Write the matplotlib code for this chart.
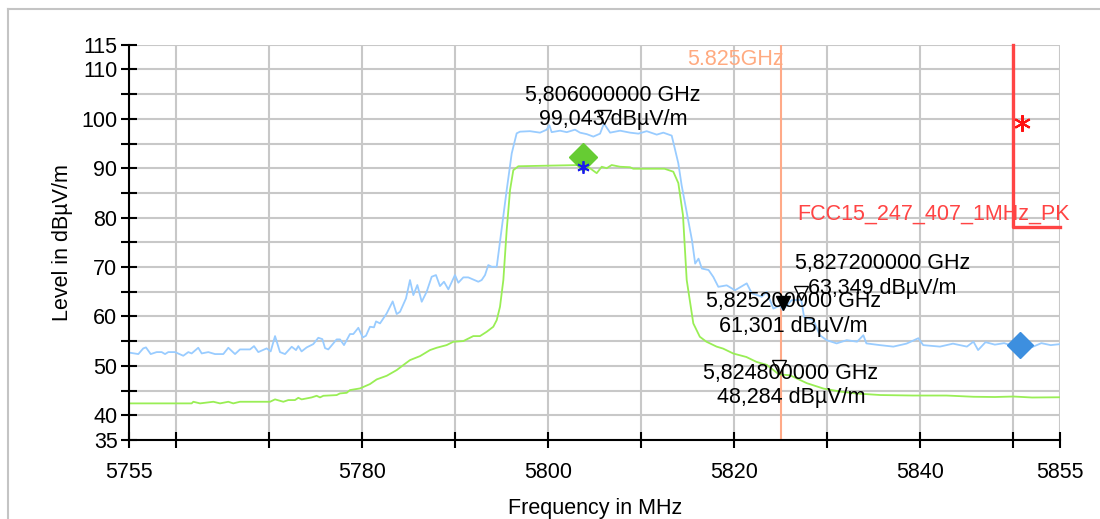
import numpy as np
import matplotlib
matplotlib.use("Agg")
import matplotlib.pyplot as plt
from matplotlib.lines import Line2D
from matplotlib.transforms import offset_copy

plt.rcParams['font.family'] = ['Liberation Sans', 'DejaVu Sans']

# blue trace (peak detector), frequency in MHz / level in dBuV/m
blue_f = [5755.08, 5755.97, 5756.50, 5756.79, 5757.30, 5757.94, 5758.48, 5758.84, 5759.19, 5759.91,
          5760.80, 5761.34, 5761.70, 5762.41, 5762.78, 5763.49, 5764.21, 5765.10, 5765.64, 5766.36,
          5766.89, 5767.97, 5768.40, 5768.86, 5769.76, 5770.19, 5770.66, 5771.19, 5771.73, 5772.45,
          5772.91, 5773.16, 5773.51, 5774.06, 5774.77, 5775.31, 5775.74, 5776.03, 5776.38, 5777.28,
          5777.64, 5778.07, 5778.71, 5779.07, 5779.61, 5780.08, 5780.43, 5780.86, 5781.29, 5781.51,
          5781.94, 5782.66, 5783.30, 5783.73, 5784.09, 5784.73, 5785.16, 5785.52, 5785.95, 5786.42,
          5786.95, 5787.49, 5787.95, 5788.38, 5788.81, 5789.28, 5789.99, 5790.35, 5790.89, 5791.42,
          5792.50, 5792.86, 5793.22, 5793.57, 5793.94, 5794.48, 5795.55, 5796.09, 5796.62, 5796.98,
          5798.05, 5799.13, 5799.85, 5800.13, 5800.38, 5801.28, 5802.00, 5802.89, 5803.43, 5804.15,
          5804.86, 5805.58, 5806.00, 5806.66, 5807.73, 5808.81, 5809.70, 5810.59, 5811.67, 5812.38,
          5813.28, 5813.99, 5814.35, 5815.46, 5815.80, 5816.16, 5816.52, 5817.24, 5817.75, 5818.29,
          5819.19, 5820.08, 5821.34, 5821.88, 5822.95, 5823.49, 5824.20, 5824.92, 5825.20, 5826.17,
          5827.20, 5827.50, 5828.50, 5829.20, 5829.93, 5831.00, 5832.08, 5833.20, 5833.87, 5834.20,
          5835.66, 5837.09, 5838.50, 5839.78, 5840.30, 5842.10, 5843.50, 5845.00, 5845.70, 5846.20,
          5847.00, 5848.00, 5849.00, 5850.00, 5851.00, 5852.00, 5853.00, 5854.00, 5855.00]
blue_l = [52.66, 52.39, 53.54, 53.74, 52.39, 52.79, 52.79, 52.39, 52.79, 52.79,
          52.05, 52.79, 52.52, 53.67, 52.52, 52.79, 52.39, 52.39, 53.67, 52.39,
          53.33, 53.33, 54.00, 52.79, 53.54, 52.93, 56.03, 52.79, 52.39, 53.87,
          53.20, 54.00, 52.93, 53.74, 54.41, 55.69, 55.42, 53.60, 53.33, 55.36,
          55.36, 54.21, 56.44, 56.44, 57.71, 55.76, 56.10, 57.92, 57.80, 59.00,
          58.60, 60.63, 63.05, 60.49, 60.95, 63.66, 67.37, 64.33, 66.36, 62.98,
          65.00, 68.04, 68.38, 66.15, 67.03, 65.49, 68.38, 66.83, 67.91, 67.91,
          67.03, 67.37, 68.38, 70.40, 70.06, 70.06, 85.60, 93.00, 97.06, 97.40,
          97.50, 97.20, 97.80, 98.70, 97.30, 97.60, 97.30, 97.80, 97.20, 96.90,
          96.40, 97.00, 99.04, 97.20, 97.60, 97.20, 97.00, 97.50, 96.80, 97.20,
          96.60, 91.00, 86.50, 75.40, 70.70, 71.70, 69.70, 69.40, 68.00, 66.00,
          66.30, 65.30, 66.70, 64.70, 64.00, 65.00, 61.60, 62.20, 61.30, 63.30,
          63.35, 59.90, 59.30, 56.20, 55.20, 54.55, 55.20, 54.90, 56.20, 54.55,
          54.20, 53.90, 54.50, 55.60, 54.20, 53.90, 54.50, 53.90, 54.90, 53.20,
          54.80, 54.30, 54.60, 54.00, 54.40, 53.80, 54.60, 54.20, 54.40]

# green trace (average detector)
green_f = [5755.08, 5761.70, 5761.88, 5762.60, 5764.03, 5764.75, 5765.64, 5766.17, 5766.89, 5770.12,
           5770.66, 5771.55, 5772.08, 5772.80, 5773.16, 5773.52, 5774.06, 5774.60, 5775.13, 5775.49,
           5775.85, 5777.28, 5777.64, 5778.36, 5778.71, 5779.79, 5780.86, 5781.58, 5782.66, 5783.73,
           5784.44, 5785.16, 5786.24, 5787.31, 5788.03, 5789.10, 5789.81, 5790.89, 5791.96, 5792.68,
           5793.40, 5794.11, 5794.48, 5794.83, 5795.19, 5795.55, 5795.91, 5796.26, 5796.80, 5803.43,
           5804.50, 5805.22, 5805.76, 5806.30, 5806.83, 5807.73, 5808.80, 5809.15, 5812.50, 5813.45,
           5813.99, 5814.49, 5814.89, 5815.60, 5816.30, 5817.00, 5818.10, 5818.80, 5819.90, 5821.30,
           5822.40, 5823.50, 5824.80, 5825.99, 5827.80, 5829.60, 5831.40, 5833.20, 5835.70, 5839.20,
           5842.80, 5845.70, 5848.00, 5850.00, 5852.00, 5855.00]
green_l = [42.41, 42.41, 42.74, 42.41, 42.74, 42.41, 42.74, 42.41, 42.74, 42.74,
           43.22, 42.74, 43.08, 43.08, 43.54, 43.22, 43.42, 43.62, 43.95, 43.62,
           43.95, 44.09, 44.43, 44.55, 45.10, 45.44, 46.32, 47.26, 48.00, 49.15,
           50.16, 51.17, 51.98, 53.20, 53.67, 54.21, 54.88, 55.02, 56.03, 56.03,
           56.90, 57.92, 59.27, 61.97, 67.37, 77.50, 85.60, 89.60, 90.40, 90.65,
           90.00, 89.00, 90.30, 90.00, 90.65, 90.30, 90.20, 89.90, 89.90, 89.30,
           87.00, 80.50, 67.40, 58.60, 55.90, 54.90, 53.90, 53.50, 52.50, 51.80,
           50.80, 50.20, 48.28, 48.10, 46.50, 45.40, 44.80, 44.40, 44.10, 44.00,
           44.00, 43.75, 43.70, 43.80, 43.60, 43.65]

# limit line FCC15_247_407_1MHz_PK
limit_f = [5850, 5850, 5855]
limit_l = [115, 78.2, 78.2]

# marker readouts
mk_f = [5806.0, 5827.2, 5825.2, 5824.8]
mk_l = [99.043, 63.349, 61.301, 48.284]
mk_filled = [False, False, True, False]
mk_text_off = [(9, 16), (81, 24), (11, -4), (12, -11)]

freq_line = 5825
xticks = [5755, 5760, 5770, 5780, 5790, 5800, 5810, 5820, 5830, 5840, 5850, 5855]
xlabeled = [5755, 5780, 5800, 5820, 5840, 5855]
yticks = list(range(35, 120, 5))
ylabeled = [35, 40, 50, 60, 70, 80, 90, 100, 110, 115]

fig = plt.figure(figsize=(11, 5.19), dpi=100)
ax = fig.add_axes([129.3 / 1100, 1 - 440 / 519, (1060 - 129.3) / 1100, (440 - 44.7) / 519])

ax.plot(blue_f, blue_l, color='#99ccff', lw=1.3, zorder=3)
ax.plot(green_f, green_l, color='#99ee55', lw=1.3, zorder=3)
ax.plot(limit_f, limit_l, color='#ff4444', lw=2.4, zorder=4, clip_on=False)
ax.axvline(freq_line, color='#ffaa88', lw=1.5, zorder=2)
ax.annotate('5.825GHz', xy=(freq_line, 115), xytext=(3, -15), textcoords='offset pixels',
            ha='right', va='center', color='#ffaa80', fontsize=15.5)
ax.annotate('FCC15_247_407_1MHz_PK', xy=(limit_f[-1], limit_l[-1]), xytext=(10, 12),
            textcoords='offset pixels', ha='right', va='center', color='#ff4444',
            fontsize=15.5, annotation_clip=False)

# symbols
ax.plot([5803.75], [92.25], marker='D', ms=14, color='#66cc33', zorder=6, ls='none')
ax.plot([5803.75], [90.2], marker=(6, 2, 0), ms=9, mew=1.3, color='#1a1aee', zorder=6, ls='none')
ax.plot([5850.75], [54.2], marker='D', ms=13, color='#3d8fdf', zorder=6, ls='none', clip_on=False)
ax.plot([5850.9], [99.1], marker=(6, 2, 0), ms=12, mew=1.5, color='#ff1111', zorder=6, ls='none')

up = offset_copy(ax.transData, fig=fig, x=0, y=7, units='dots')
for f, l, filled, off in zip(mk_f, mk_l, mk_filled, mk_text_off):
    ax.plot([f], [l], marker='v', ms=10, mew=1.0, mec='black',
            mfc='black' if filled else 'white', transform=up, zorder=7, ls='none')
    s = f"{f / 1000:.9f} GHz\n{l:.3f} dBµV/m".replace('.', ',')
    ax.annotate(s, xy=(f, l), xytext=off, textcoords='offset pixels', ha='center', va='center',
                multialignment='center', fontsize=15.5, zorder=8)

ax.set_xlim(5755, 5855)
ax.set_ylim(35, 115)
ax.set_xticks(xticks)
ax.set_xticklabels([str(t) if t in xlabeled else '' for t in xticks])
ax.set_yticks(yticks)
ax.set_yticklabels([str(t) if t in ylabeled else '' for t in yticks])
ax.tick_params(direction='inout', length=11, width=1.5, labelsize=15.5, color='black')
ax.tick_params(axis='x', pad=10)
ax.tick_params(axis='y', pad=3)
ax.grid(True, color='#c8c8c8', lw=1.5, zorder=0)
ax.set_axisbelow(True)
for s in ['top', 'right']:
    ax.spines[s].set_visible(False)
for s in ['left', 'bottom']:
    ax.spines[s].set_linewidth(1.5)
    ax.spines[s].set_zorder(5)

ax.set_xlabel('Frequency in MHz', fontsize=15.5, labelpad=11)
ax.set_ylabel('Level in dBµV/m', fontsize=15.5, labelpad=6)

# light frame of the page
fig.add_artist(Line2D([8 / 1100, 1], [1 - 9 / 519] * 2, transform=fig.transFigure, color='#c4c4c4', lw=1.5))
fig.add_artist(Line2D([8 / 1100] * 2, [0, 1 - 9 / 519], transform=fig.transFigure, color='#c4c4c4', lw=1.5))

fig.savefig('out.png', dpi=100)
